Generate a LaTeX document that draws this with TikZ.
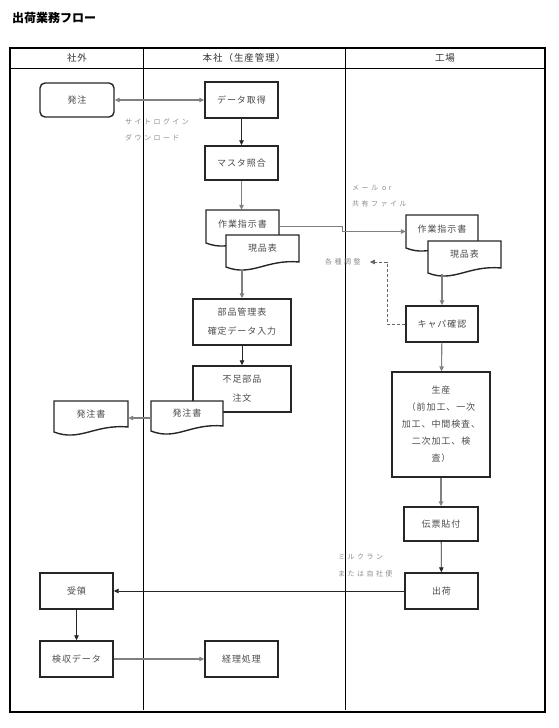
\documentclass[tikz,border=0pt]{standalone}
\usepackage{fontspec}
\setmainfont{Noto Sans CJK JP}
\newfontfamily\jpbox[LetterSpace=10]{Noto Sans CJK JP}
\newfontfamily\jplab[LetterSpace=35]{Noto Sans CJK JP}
\usetikzlibrary{arrows.meta,calc}
\tikzset{
 tri/.tip={Triangle[length=5pt,width=4.5pt]},
 box/.style={draw=black!85,line width=1.4pt,fill=white,minimum width=73pt,minimum height=35pt,inner sep=0pt,align=center,text=black!70,font=\jpbox\fontsize{9}{18}\selectfont},
 doctext/.style={inner sep=0pt,text=black!70,font=\jpbox\fontsize{9}{18}\selectfont},
 docline/.style={draw=black!85,line width=1.4pt,fill=white},
 lab/.style={inner sep=0pt,anchor=north west,align=left,text=black!45,font=\jplab\fontsize{7}{16}\selectfont},
 head/.style={inner sep=0pt,text=black!80,font=\jpbox\fontsize{9.5}{12}\selectfont},
 arr/.style={-tri,line width=0.8pt,draw=black!85},
 garr/.style={-tri,draw=black!50,line width=1.1pt},
}
\newcommand\docnode[6]{%
 \path[docline] (#2,#3) -- (#2+#4,#3) -- (#2+#4,#3+#5-5) .. controls (#2+0.55*#4,#3+#5-8) and (#2+0.35*#4,#3+#5+10) .. (#2,#3+#5) -- cycle;
 \node[inner sep=0pt,minimum width=#4pt,minimum height=#5pt] (#1) at (#2+0.5*#4,#3+0.5*#5) {};
 \node[doctext] (#1t) at (#2+0.5*#4,#3+0.5*#5-2.5) {#6};
}
\begin{document}
\begin{tikzpicture}[x=1pt,y=-1pt]
\useasboundingbox (0,0) rectangle (558,728);
% title
\node[anchor=west,inner sep=0pt,font=\bfseries\fontsize{12}{14}\selectfont] (title) at (12,18) {出荷業務フロー};
% frame
\draw[line width=2pt] (10,48) rectangle (545,712);
\draw[line width=1pt] (10,68) -- (545,68);
\draw[line width=1pt] (143,48) -- (143,710);
\draw[line width=1pt] (345,48) -- (345,710);
\node[head] (h1) at (77,58) {社外};
\node[head] (h2) at (244,58) {本社（生産管理）};
\node[head] (h3) at (445,58) {工場};
% nodes
\node[box,rounded corners=5pt,minimum width=74pt,minimum height=34pt] (hatchu) at (77,100) {発注};
\node[box,minimum height=36pt] (data) at (241.5,100) {データ取得};
\node[box,minimum height=34pt] (master) at (241.5,163) {マスタ照合};
\docnode{sagyoA}{206}{210}{73}{33}{作業指示書}
\docnode{genpinA}{226}{235}{73}{32}{現品表}
\node[box,minimum width=98pt,minimum height=46pt,font=\jpbox\fontsize{9}{19}\selectfont] (buhin) at (242,322) {部品管理表\\確定データ入力};
\node[box,minimum width=98pt,minimum height=46pt,font=\jpbox\fontsize{9}{19}\selectfont] (fusoku) at (242,389) {不足部品\\注文};
\docnode{hatchuA}{151}{401}{72}{30}{発注書}
\docnode{hatchuB}{54}{401}{74}{31}{発注書}
\docnode{sagyoB}{406}{215}{72}{33}{作業指示書}
\docnode{genpinB}{428}{241}{73}{32}{現品表}
\node[box,minimum width=72pt,minimum height=36pt] (kyapa) at (442,324) {キャパ確認};
\node[box,minimum width=98pt,minimum height=105pt,font=\jpbox\fontsize{9}{17}\selectfont] (seisan) at (441,424.5) {生産\\（前加工、一次\\加工、中間検査、\\二次加工、検\\査）};
\node[box,minimum width=74pt,minimum height=34pt] (denpyo) at (441,524) {伝票貼付};
\node[box,minimum width=73pt,minimum height=36pt] (shukka) at (441.5,591) {出荷};
\node[box,minimum width=73pt,minimum height=36pt] (juryo) at (76.5,591) {受領};
\node[box,minimum width=73pt,minimum height=36pt] (kenshu) at (76.5,659) {検収データ};
\node[box,minimum width=73pt,minimum height=36pt] (keiri) at (241.5,659) {経理処理};
% labels
\node[lab] (site) at (125,118) {サイトログイン\\ダウンロード};
\node[lab] (mail) at (352,184.5) {メール or\\共有ファイル};
\node[lab] (kakushu) at (325,258.5) {各種調整};
\node[lab] (milk) at (338,553.5) {ミルクラン\\[1pt]または自社便};
% connectors
\draw[garr,tri-tri] (hatchu) -- (data);
\draw[arr] (data) -- (master);
\draw[garr] (master.south) -- (master.south |- sagyoA.north);
\draw[garr] ($(genpinA.south -| buhin.north)+(0,1.5)$) -- (buhin.north);
\draw[garr,line width=0.9pt] (sagyoA.east) -- ++(63,0) |- (sagyoB.west);
\draw[arr] (buhin) -- (fusoku);
\draw[garr] ([yshift=-2pt]hatchuA.west) -- ([yshift=-2pt]hatchuA.west -| hatchuB.east);
\draw[garr] ($(genpinB.south -| kyapa.north)+(0,1)$) -- (kyapa.north);
\draw[arr,draw=black!60,dash pattern=on 3pt off 2pt,shorten >=9pt] (kyapa.west) -- ++(-18,0) |- (kakushu.east);
\draw[garr] (kyapa) -- (seisan);
\draw[garr] (seisan) -- (denpyo);
\draw[arr] (denpyo) -- (shukka);
\draw[arr] (shukka) -- (juryo);
\draw[arr] (juryo) -- (kenshu);
\draw[garr] (kenshu) -- (keiri);
\end{tikzpicture}
\end{document}
